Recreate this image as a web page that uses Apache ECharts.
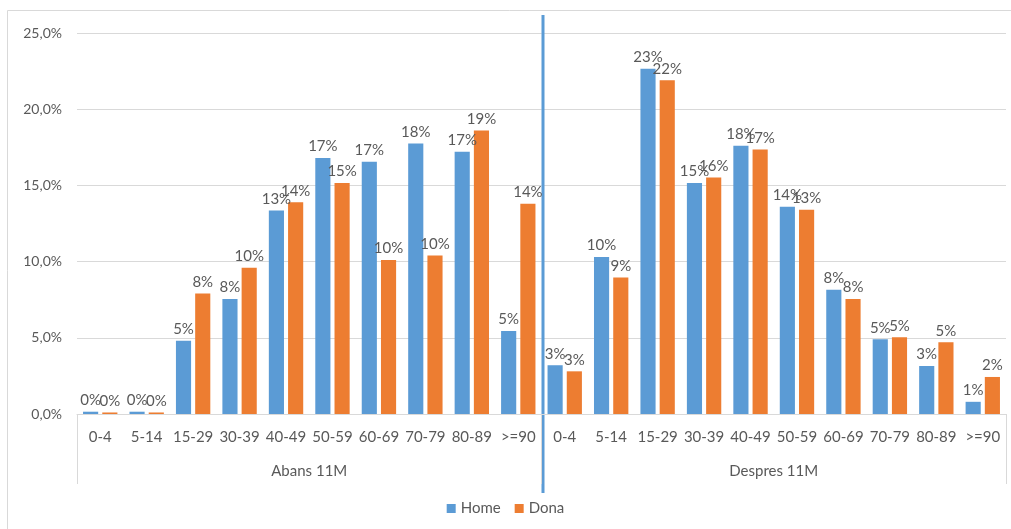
<!doctype html>
<html>
<head>
<meta charset="UTF-8">
<title>Home / Dona</title>
<script src="https://cdn.jsdelivr.net/npm/echarts@6/dist/echarts.min.js"></script>
<style>
html,body{margin:0;padding:0;background:#fff;}
#main{width:1011px;height:529px;}
</style>
</head>
<body>
<div id="main"></div>
<script>
// dades
var edats = ['0-4','5-14','15-29','30-39','40-49','50-59','60-69','70-79','80-89','>=90'];
var grups = ['Abans 11M','Despres 11M'];
var homeAbans   = [0.15, 0.15, 4.8, 7.55, 13.35, 16.8, 16.55, 17.75, 17.2, 5.45];
var donaAbans   = [0.1, 0.1, 7.9, 9.6, 13.9, 15.15, 10.1, 10.4, 18.6, 13.8];
var homeDespres = [3.2, 10.3, 22.65, 15.15, 17.6, 13.6, 8.15, 4.9, 3.15, 0.8];
var donaDespres = [2.8, 8.95, 21.9, 15.52, 17.35, 13.4, 7.55, 5.03, 4.7, 2.43];
var yTicks = [0, 5, 10, 15, 20, 25];

var cats = edats.concat(edats);
var font = 'Lato';
var grey = '#595959';

var myChart = echarts.init(document.getElementById('main'));
var etiqueta = {
	show: true, position: 'top', distance: 4,
	color: grey, fontFamily: font, fontSize: 15,
	formatter: function(p){ return Math.round(p.value) + '%'; }
};
var option = {
	animation: false,
	grid: {left: 77, right: 5, top: 33, bottom: 115},
	legend: {
		bottom: 8, left: 'center', itemWidth: 9, itemHeight: 9, itemGap: 14,
		icon: 'rect',
		textStyle: {color: grey, fontFamily: font, fontSize: 15}
	},
	xAxis: [{
		type: 'category', data: cats,
		axisLine: {lineStyle: {color: '#d9d9d9'}},
		axisTick: {show: false},
		axisLabel: {interval: 0, color: grey, fontFamily: font, fontSize: 15, margin: 16}
	}, {
		type: 'category', data: grups, position: 'bottom',
		axisLine: {show: false},
		axisTick: {show: true, length: 70, lineStyle: {color: '#d9d9d9'}},
		axisLabel: {color: grey, fontFamily: font, fontSize: 15, margin: 50}
	}],
	yAxis: {
		type: 'value', min: 0, max: 25, interval: 5,
		axisLine: {show: false}, axisTick: {show: false},
		splitLine: {lineStyle: {color: '#d9d9d9', width: 1}},
		axisLabel: {
			color: grey, fontFamily: font, fontSize: 14, margin: 15,
			formatter: function(v){ return yTicks.indexOf(v) < 0 ? '' : v.toFixed(1).replace('.', ',') + '%'; }
		}
	},
	series: [{
		name: 'Home', type: 'bar', barGap: '27%', barCategoryGap: '26%',
		itemStyle: {color: '#5b9bd5'},
		label: etiqueta,
		data: homeAbans.concat(homeDespres)
	}, {
		name: 'Dona', type: 'bar',
		itemStyle: {color: '#ed7d31'},
		label: etiqueta,
		data: donaAbans.concat(donaDespres)
	}]
};
myChart.setOption(option);

// línia blava entre grups i marc
var x9 = myChart.convertToPixel({xAxisIndex: 0}, 9);
var x10 = myChart.convertToPixel({xAxisIndex: 0}, 10);
var xm = (x9 + x10) / 2 + 1.5;
myChart.setOption({
	graphic: [{
		type: 'rect', shape: {x: 7.5, y: 10.5, width: 1010, height: 530}, silent: true,
		style: {fill: null, stroke: '#d9d9d9', lineWidth: 1}
	}, {
		type: 'line', shape: {x1: xm, y1: 15, x2: xm, y2: 493},
		style: {stroke: '#5b9bd5', lineWidth: 3}
	}]
});
</script>
</body>
</html>
